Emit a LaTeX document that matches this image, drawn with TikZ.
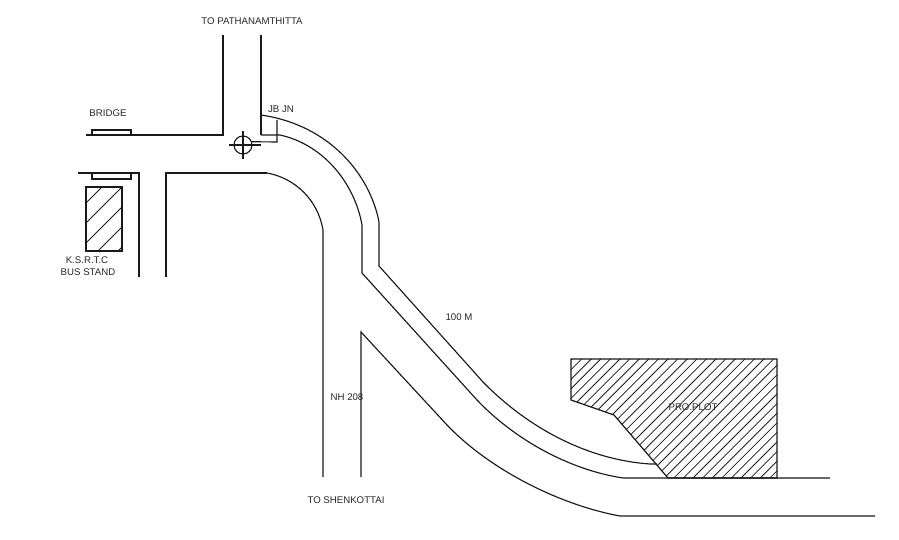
\documentclass[tikz,border=0pt]{standalone}
\usepackage{fontspec}
\setmainfont{Liberation Sans}
\usepackage{tikz}
\tikzset{
  road/.style={line width=0.65pt,black!90},
  hatchline/.style={line width=0.45pt,black!90},
  outline/.style={line width=0.7pt,black!90},
  label/.style={font=\fontsize{5.5pt}{6.6pt}\selectfont,text=black!85,inner sep=0pt}
}
\begin{document}
\begin{tikzpicture}[x=0.02cm,y=-0.02cm]
\useasboundingbox (0,0) rectangle (899,540);

% road to the north and the bridge side
\draw [road] (223,35) -- (223,135) -- (86,135);
\draw [road] (261,35) -- (261,135);
\draw [road] (92,135) -- (92,130) -- (131,130) -- (131,135);
\draw [road] (78,173) -- (139,173) -- (139,277);
\draw [road] (92,173) -- (92,179) -- (131,179) -- (131,173);
\draw [road] (166,277) -- (166,173) -- (267,173);

% bend and main road
\draw [road] (261,115) .. controls (330,125) and (370,175) .. (379,222) -- (379,266) -- (483,382) .. controls (530,430) and (590,460) .. (650,464) -- (657,464);
\draw [road] (261,135) -- (280,135) .. controls (325,145) and (355,185) .. (362,225) -- (362,273) -- (477,400) .. controls (515,440) and (570,470) .. (623,478) -- (830,478);
\draw [road] (267,173) .. controls (295,178) and (318,200) .. (323,230) -- (323,477);
\draw [road] (361,477) -- (361,332) -- (447,425) .. controls (490,470) and (560,505) .. (620,516) -- (875,516);

% junction mark
\node (jn) [circle,draw,road,minimum size=0.36cm,inner sep=0pt] at (243,145) {};
\coordinate (jnw) at (229,145);
\coordinate (jne) at (261,145);
\coordinate (jnn) at (243,131);
\coordinate (jns) at (243,159);
\coordinate (jnb) at (277,142);
\coordinate (jnt) at (277,120);
\draw [road] (jnw) -- (jne);
\draw [road] (jnn) -- (jns);
\draw [road] (jn.20) -- (jnb) -- (jnt);

% bus stand
\begin{scope}
\clip (86,187) rectangle (122,251);
\foreach \c in {289,309,329,349,369}
  \draw [hatchline] (\c-300,300) -- (\c,0);
\end{scope}
\draw [outline] (86,187) rectangle (122,251);

% plot
\begin{scope}
\clip (571,359) -- (777,359) -- (777,478) -- (668,478) -- (614,415) -- (571,400) -- cycle;
\foreach \k in {0,...,34}
  \draw [hatchline] (931+\k*9.6-500,500) -- (931+\k*9.6,0);
\end{scope}
\draw [outline] (571,359) -- (777,359) -- (777,478) -- (668,478) -- (614,415) -- (571,400) -- cycle;

\node (north) [label] at (252,21) {TO PATHANAMTHITTA};
\node (bridge) [label] at (108,113) {BRIDGE};
\node (jb) [label] at (281,109) {JB JN};
\node (ksrtc) [label] at (87,260) {K.S.R.T.C};
\node (bus) [label] at (88,272) {BUS STAND};
\node (dist) [label] at (459,317) {100 M};
\node (nh) [label] at (347,397) {NH 208};
\node (south) [label] at (346,500) {TO SHENKOTTAI};
\node (pro) [label] at (693,407) {PRO.PLOT};
\end{tikzpicture}
\end{document}
